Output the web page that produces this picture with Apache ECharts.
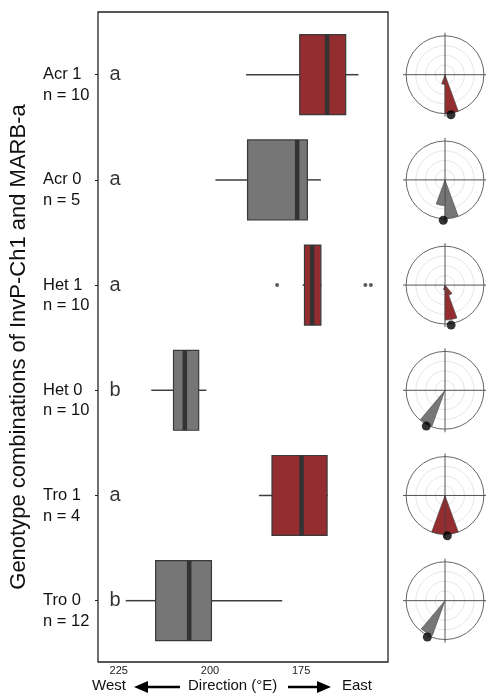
<!DOCTYPE html>
<html>
<head>
<meta charset="utf-8">
<script src="https://cdn.jsdelivr.net/npm/echarts@6/dist/echarts.min.js"></script>
<style>
  html, body { margin: 0; padding: 0; background: #fff; }
  #chart { width: 486px; height: 695px; }
</style>
</head>
<body>
<div id="chart"></div>
<script>
// groups, top to bottom
var groups = ['Acr 1', 'Acr 0', 'Het 1', 'Het 0', 'Tro 1', 'Tro 0'];
var counts = [10, 5, 10, 10, 4, 12];
var letters = ['a', 'a', 'a', 'b', 'a', 'b'];

// box plot stats, direction in degrees E
var whiskerLow  = [159.3, 169.6, 169.4, 201.0, 167.7, 180.2];
var boxLow      = [162.8, 173.3, 169.6, 203.1, 167.9, 199.6];
var medians     = [167.9, 176.1, 172.0, 206.9, 174.9, 205.7];
var boxHigh     = [175.4, 189.7, 174.1, 210.0, 183.0, 214.9];
var whiskerHigh = [190.1, 198.5, 174.6, 216.1, 186.6, 223.1];
var outlierValues = [181.6, 157.4, 155.9];
var outlierGroup = [2, 2, 2];

var xTicks = [225, 200, 175];

// circular histograms: [relative length, bin from, bin to] (compass deg)
var roseBins = [
  [[1.0, 160, 180], [0.25, 180, 200]],
  [[0.98, 160, 180], [0.66, 180, 200]],
  [[0.9, 160, 180], [0.28, 140, 160], [0.12, 180, 200]],
  [[0.98, 200, 220]],
  [[1.0, 160, 180], [1.0, 180, 200]],
  [[0.95, 200, 220]]
];
var meanDir = [171.5, 182.4, 171.3, 207.6, 176.7, 205.9];

var RED = '#932d30';
var GREY = '#767676';
var FONT = 'Liberation Sans, Arial, sans-serif';

function groupColor(i) {
  return groups[i].slice(-1) === '1' ? RED : GREY;
}

var chart = echarts.init(document.getElementById('chart'));

var boxData = groups.map(function (g, i) {
  return [i + 1, whiskerLow[i], boxLow[i], medians[i], boxHigh[i], whiskerHigh[i]];
});

function renderBox(params, api) {
  var y = api.value(0);
  var i = params.dataIndex;
  var h = api.size([0, 0.76])[1];
  var wl = api.coord([api.value(1), y]);
  var bl = api.coord([api.value(2), y]);
  var md = api.coord([api.value(3), y]);
  var bh = api.coord([api.value(4), y]);
  var wh = api.coord([api.value(5), y]);
  var left = Math.min(bl[0], bh[0]);
  var width = Math.abs(bl[0] - bh[0]);
  return {
    type: 'group',
    children: [
      { type: 'line', shape: { x1: wl[0], y1: wl[1], x2: bl[0], y2: bl[1] },
        style: { stroke: '#3d3d3d', lineWidth: 1.5 } },
      { type: 'line', shape: { x1: bh[0], y1: bh[1], x2: wh[0], y2: wh[1] },
        style: { stroke: '#3d3d3d', lineWidth: 1.5 } },
      { type: 'rect', shape: { x: left, y: bl[1] - h / 2, width: width, height: h },
        style: { fill: groupColor(i), stroke: '#3a3a3a', lineWidth: 1.2 } },
      { type: 'line', shape: { x1: md[0], y1: md[1] - h / 2, x2: md[0], y2: md[1] + h / 2 },
        style: { stroke: '#333', lineWidth: 4.5 } }
    ]
  };
}

function renderWedge(color) {
  return function (params, api) {
    var len = api.value(0), a1 = api.value(1), a2 = api.value(2);
    var c = api.coord([0, a1]);
    var p = api.coord([len, a1]);
    var r = Math.sqrt((p[0] - c[0]) * (p[0] - c[0]) + (p[1] - c[1]) * (p[1] - c[1]));
    var rad = function (d) { return (d - 90) * Math.PI / 180; };
    return {
      type: 'sector',
      shape: { cx: c[0], cy: c[1], r0: 0, r: r, startAngle: rad(a1), endAngle: rad(a2), clockwise: true },
      style: { fill: color, stroke: '#444', lineWidth: 0.6 }
    };
  };
}

var polar = [], angleAxis = [], radiusAxis = [];
var roseSeries = [];
groups.forEach(function (g, i) {
  polar.push({ center: [445, 75 + i * 105], radius: 42 });
  angleAxis.push({
    polarIndex: i, type: 'value', min: 0, max: 360, interval: 90,
    startAngle: 90, clockwise: true,
    axisLine: { show: false }, axisTick: { show: false }, axisLabel: { show: false },
    splitLine: { show: true, lineStyle: { color: '#555', width: 1 } }
  });
  radiusAxis.push({
    polarIndex: i, type: 'value', min: 0, max: 1.08, interval: 0.25,
    axisLine: { show: false }, axisTick: { show: false }, axisLabel: { show: false },
    splitLine: { show: true, lineStyle: { color: ['#e6e6e6', '#e6e6e6', '#e6e6e6', '#e6e6e6', '#666', 'rgba(0,0,0,0)'], width: 1 } }
  });
  roseSeries.push({
    type: 'custom', coordinateSystem: 'polar', polarIndex: i,
    dimensions: ['len', 'from', 'to'],
    encode: { radius: 0, angle: 1 },
    renderItem: renderWedge(groupColor(i)),
    data: roseBins[i],
    silent: true, z: 3
  });
  roseSeries.push({
    type: 'scatter', coordinateSystem: 'polar', polarIndex: i,
    symbolSize: 9, itemStyle: { color: '#000' },
    data: [[1.04, meanDir[i]]],
    silent: true, z: 4
  });
});

var option = {
  animation: false,
  backgroundColor: '#fff',
  textStyle: { fontFamily: FONT },
  grid: {
    left: 97, top: 12, width: 291, height: 650,
    show: true, borderColor: '#222', borderWidth: 1.3, backgroundColor: 'transparent'
  },
  xAxis: {
    type: 'value', inverse: true, min: 151.2, max: 230.7,
    axisLine: { show: false }, axisTick: { show: false }, splitLine: { show: false },
    axisLabel: { customValues: xTicks, fontSize: 11, color: '#222', margin: 3, fontFamily: FONT }
  },
  yAxis: {
    type: 'value', inverse: true, min: 0.404, max: 6.583,
    axisLine: { show: false }, splitLine: { show: false },
    axisTick: { show: true, customValues: [1, 2, 3, 4, 5, 6], length: 3, lineStyle: { color: '#222' } },
    axisLabel: {
      customValues: [1, 2, 3, 4, 5, 6],
      formatter: function (v) {
        var i = Math.round(v) - 1;
        return '\n' + groups[i] + '\nn = ' + counts[i];
      },
      align: 'left', margin: 55, fontSize: 16.5, lineHeight: 20.5, color: '#111',
      fontFamily: FONT
    },
    name: 'Genotype combinations of InvP-Ch1 and MARB-a',
    nameLocation: 'middle', nameRotate: 90, nameGap: 68,
    nameTextStyle: { fontSize: 22, color: '#111', fontFamily: FONT, padding: [0, 20, 0, 0] }
  },
  polar: polar,
  angleAxis: angleAxis,
  radiusAxis: radiusAxis,
  graphic: [
    { type: 'text', left: 92, top: 678, style: { text: 'West', font: '15px ' + FONT, fill: '#111' } },
    { type: 'line', shape: { x1: 146, y1: 687, x2: 180, y2: 687 }, style: { stroke: '#000', lineWidth: 2.5 } },
    { type: 'polygon', shape: { points: [[134, 687], [148, 681], [148, 693]] }, style: { fill: '#000' } },
    { type: 'text', left: 188, top: 678, style: { text: 'Direction (°E)', font: '15px ' + FONT, fill: '#111' } },
    { type: 'line', shape: { x1: 288, y1: 687, x2: 318, y2: 687 }, style: { stroke: '#000', lineWidth: 2.5 } },
    { type: 'polygon', shape: { points: [[331, 687], [317, 681], [317, 693]] }, style: { fill: '#000' } },
    { type: 'text', left: 342, top: 678, style: { text: 'East', font: '15px ' + FONT, fill: '#111' } }
  ],
  series: [
    {
      type: 'custom',
      renderItem: renderBox,
      encode: { x: [1, 2, 3, 4, 5], y: 0 },
      data: boxData,
      silent: true, z: 2
    },
    {
      type: 'scatter',
      symbolSize: 4,
      itemStyle: { color: '#333' },
      data: outlierValues.map(function (v, k) { return [v, outlierGroup[k] + 1]; }),
      z: 3
    },
    {
      type: 'scatter',
      symbolSize: 1,
      itemStyle: { color: 'rgba(0,0,0,0)' },
      label: {
        show: true, position: 'inside', fontSize: 20, color: '#000', fontFamily: FONT,
        formatter: function (p) { return letters[p.dataIndex]; }
      },
      data: letters.map(function (l, i) { return [226, i + 1]; }),
      z: 3
    }
  ].concat(roseSeries)
};

chart.setOption(option);

// line the roses up with the group rows
var centers = groups.map(function (g, i) {
  return { center: [445, chart.convertToPixel({ yAxisIndex: 0 }, i + 1)] };
});
chart.setOption({ polar: centers });
</script>
</body>
</html>
